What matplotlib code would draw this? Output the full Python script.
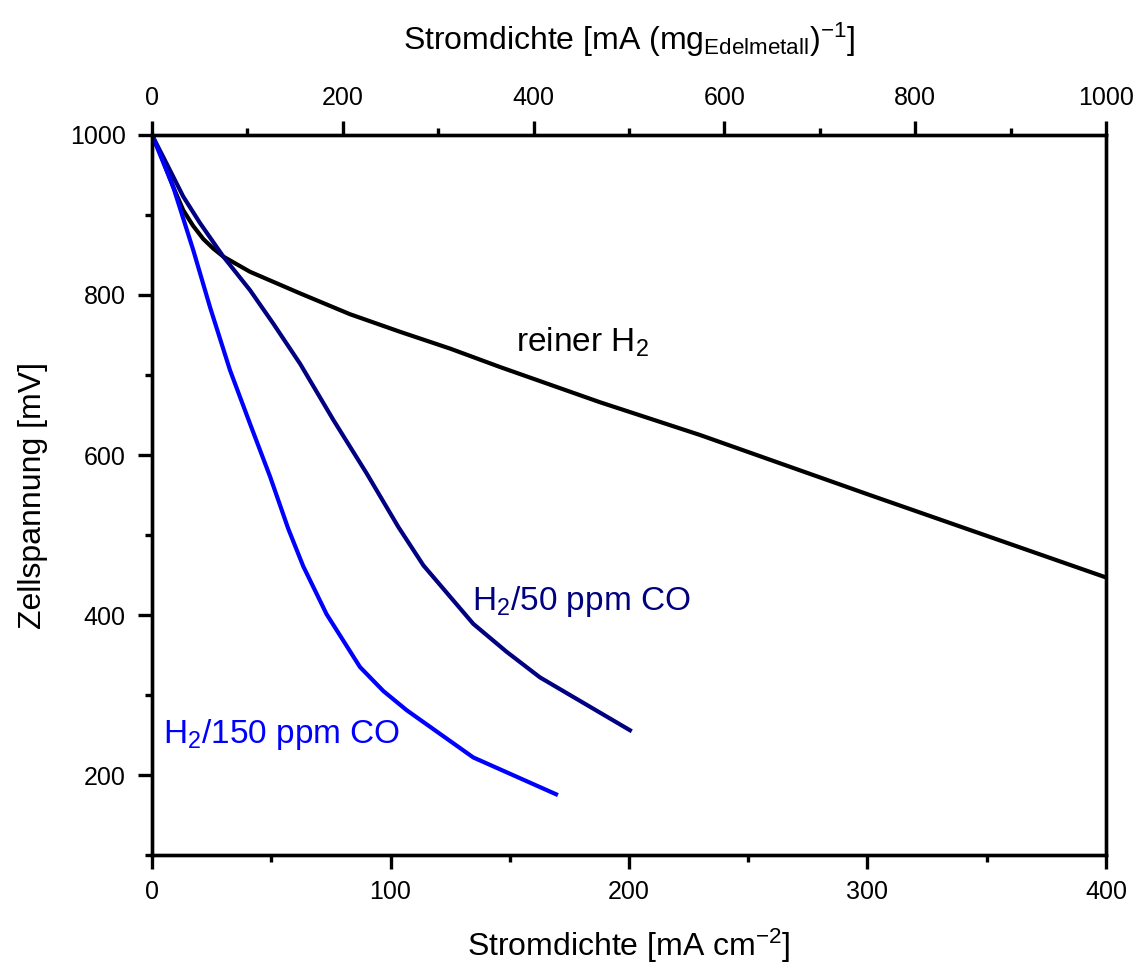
import numpy as np
import matplotlib
matplotlib.use("Agg")
import matplotlib.pyplot as plt
from matplotlib.ticker import MultipleLocator

plt.rcParams["font.family"] = ["Liberation Sans", "DejaVu Sans"]
plt.rcParams["mathtext.default"] = "regular"

# reiner H2
x_h2 = [0, 3.4, 8.9, 13.1, 17.1, 21.5, 25.7, 29.9, 41.1, 62.1, 83, 104, 125, 145.9, 187.8, 229.8, 300, 400]
y_h2 = [1000, 977, 935, 906, 887, 870, 858, 848, 829, 802, 776, 754, 733, 710, 666, 625, 551, 447]

# H2 / 50 ppm CO
x_co50 = [0, 6.5, 13.1, 20.1, 29.9, 41.1, 50.9, 62.1, 76, 90, 103.3, 113.8, 134.7, 148.7, 162.7, 200.4]
y_co50 = [1000, 962, 923, 890, 848, 806, 764, 714, 644, 577, 510, 462, 389, 354, 322, 256]

# H2 / 150 ppm CO
x_co150 = [0, 8.9, 17.3, 24.3, 32.7, 41.1, 49.5, 57.1, 63.4, 73.2, 87.2, 97, 106.8, 134.7, 169.4]
y_co150 = [1000, 935, 856, 785, 706, 639, 573, 508, 461, 401, 335, 305, 281, 222, 176]

fig = plt.figure(figsize=(11.43, 9.69), dpi=100)
ax = fig.add_axes([0.133, 0.1176, 0.8346, 0.7431])

lw = 3.0
ax.plot(x_h2, y_h2, color="black", lw=lw, solid_joinstyle="round")
ax.plot(x_co50, y_co50, color="#000080", lw=lw, solid_joinstyle="round")
ax.plot(x_co150, y_co150, color="#0000ff", lw=lw, solid_joinstyle="round")

ax.set_xlim(0, 400)
ax.set_ylim(100, 1000)
ax.xaxis.set_major_locator(MultipleLocator(100))
ax.xaxis.set_minor_locator(MultipleLocator(50))
ax.yaxis.set_minor_locator(MultipleLocator(100))
ax.set_yticks([200, 400, 600, 800, 1000])

ax2 = ax.twiny()
ax2.set_xlim(0, 1000)
ax2.xaxis.set_major_locator(MultipleLocator(200))
ax2.xaxis.set_minor_locator(MultipleLocator(100))

for a in (ax, ax2):
    for s in a.spines.values():
        s.set_linewidth(2.4)
    a.tick_params(which="major", direction="out", length=10, width=2.4, labelsize=18, pad=8)
    a.tick_params(which="minor", direction="out", length=5, width=2.4)
ax.tick_params(axis="y", which="major", pad=9)
ax.tick_params(right=False, top=False, which="both")

ax.set_xlabel("Stromdichte [mA cm$^{-2}$]", fontsize=23, labelpad=16)
ax.set_ylabel("Zellspannung [mV]", fontsize=23, labelpad=16)
ax2.set_xlabel("Stromdichte [mA (mg$_{Edelmetall}$)$^{-1}$]", fontsize=23, labelpad=26)

ax.text(152.6, 729, "reiner H$_2$", fontsize=24, color="black", ha="left", va="baseline")
ax.text(134, 406, "H$_2$/50 ppm CO", fontsize=24, color="#000080", ha="left", va="baseline")
ax.text(4.7, 240, "H$_2$/150 ppm CO", fontsize=24, color="#0000ff", ha="left", va="baseline")

fig.savefig("out.png", dpi=100)
